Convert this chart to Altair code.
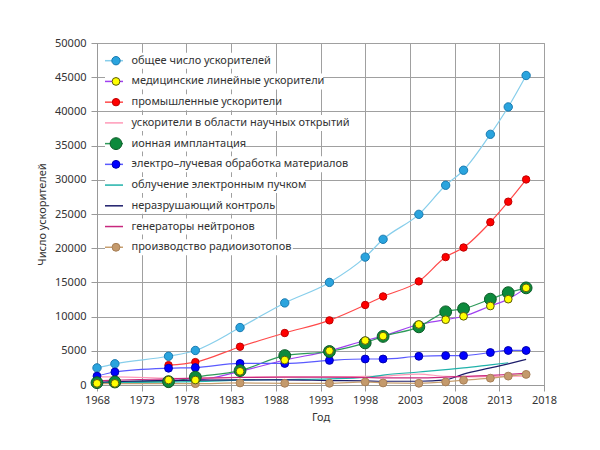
import altair as alt
import pandas as pd

years = [1968, 1970, 1976, 1979, 1984, 1989, 1994, 1998, 2000, 2004, 2007, 2009, 2012, 2014, 2016]

total = [2500, 3100, 4200, 5050, 8400, 12000, 15000, 18700, 21300, 24950, 29200, 31400, 36650, 40650, 45250]
medical = [240, 240, 730, 730, 2000, 3650, 5000, 6500, 7150, 8850, 9550, 10050, 11550, 12550, 14200]
industrial = [None, None, 2900, 3350, 5600, 7600, 9450, 11700, 12950, 15150, 18700, 20100, 23800, 26800, 30050]
science = [1200, 1200, 1000, 950, 1150, 1200, 1200, 1250, 1300, 1600, 1250, 1200, 1250, 1300, 1300]
ion = [340, 440, 490, 1150, 2100, 4300, 4900, 6150, 7100, 8500, 10700, 11150, 12550, 13500, 14200]
ebeam = [1300, 1900, 2450, 2550, 3150, 3150, 3600, 3800, 3800, 4200, 4300, 4300, 4750, 5050, 5050]
irradiation = [300, 350, 450, 500, 700, 800, 900, 1100, 1450, 1900, 2250, 2500, 2950, 3250, None]
ndt = [400, 500, 650, 700, 750, 750, 650, 600, 550, 550, 750, 1600, 2500, 3100, 3750]
neutron = [600, 700, 900, 1000, 1100, 1150, 1150, 1100, 1050, 1050, 1150, 1250, 1400, 1550, 1700]
isotopes = [200, 200, 200, 200, 300, 250, 250, 450, 300, 250, 450, 700, 1000, 1300, 1550]

names = [
    "общее число ускорителей",
    "медицинские линейные ускорители",
    "промышленные ускорители",
    "ускорители в области научных открытий",
    "ионная имплантация",
    "электро–лучевая обработка материалов",
    "облучение электронным пучком",
    "неразрушающий контроль",
    "генераторы нейтронов",
    "производство радиоизотопов",
]
values = [total, medical, industrial, science, ion, ebeam, irradiation, ndt, neutron, isotopes]

line_colors = ["#87ceeb", "#a040f0", "#ff4a4a", "#ff9ab8", "#2e9a5a",
               "#5a5aff", "#20b2aa", "#1c1c6a", "#c8287e", "#c8a070"]
marker_fill = ["#2aa4de", "#ffff00", "#ff0000", None, "#0d8a3c",
               "#0000ff", None, None, None, "#c49a6c"]
marker_stroke = ["#1a7ab0", "#5a5a10", "#c00000", None, "#0a5a25",
                 "#0000b0", None, None, None, "#a88058"]
marker_size = [70, 60, 55, 0, 140, 62, 0, 0, 0, 62]
marker_z = [2, 6, 3, 0, 5, 4, 0, 0, 0, 1]

rows = []
for i, (n, vals) in enumerate(zip(names, values)):
    for yr, v in zip(years, vals):
        if v is None:
            continue
        rows.append({"year": yr, "value": v, "series": n, "idx": i,
                     "lcolor": line_colors[i],
                     "mfill": marker_fill[i], "mstroke": marker_stroke[i],
                     "msize": marker_size[i], "z": marker_z[i]})
df = pd.DataFrame(rows)
pts_df = df[df["mfill"].notna()].sort_values(["z", "year"])

W, H = 447, 342
font = "Noto Sans"

x_scale = alt.Scale(domain=[1968, 2018], nice=False, zero=False)
y_scale = alt.Scale(domain=[0, 50000], nice=False, zero=False)
x_axis = alt.Axis(values=list(range(1968, 2019, 5)), format="d", title="Год",
                  tickSize=6, labelPadding=3, titlePadding=6, labelOverlap=False,
                  labelFlush=False)
y_axis = alt.Axis(values=list(range(0, 50001, 5000)), format="d",
                  title="Число ускорителей", tickSize=6, labelPadding=5,
                  titlePadding=7, labelOverlap=False, labelFlush=False)

lines = alt.Chart(df).mark_line(interpolate="monotone", strokeWidth=1.2).encode(
    x=alt.X("year:Q", scale=x_scale, axis=x_axis),
    y=alt.Y("value:Q", scale=y_scale, axis=y_axis),
    color=alt.Color("lcolor:N", scale=None),
    detail="series:N",
)
points = alt.Chart(pts_df).mark_point(filled=True, opacity=1, strokeWidth=1).encode(
    x=alt.X("year:Q", scale=x_scale, axis=x_axis),
    y=alt.Y("value:Q", scale=y_scale, axis=y_axis),
    fill=alt.Fill("mfill:N", scale=None),
    stroke=alt.Stroke("mstroke:N", scale=None),
    size=alt.Size("msize:Q", scale=None),
    order=alt.Order("z:Q"),
)
data_layer = alt.layer(lines, points)

# legend (drawn with marks)
row_step = 20.73
leg = pd.DataFrame({
    "series": names,
    "ly": [17.7 + k * row_step for k in range(len(names))],
    "lcolor": line_colors,
    "mfill": marker_fill,
    "mstroke": marker_stroke,
    "msize": marker_size,
})
leg["x0"] = 8
leg["x1"] = 26
leg["xm"] = 19
leg["xt"] = 34.5
leg["xr"] = 34.5 + leg["series"].str.len() * 6.05 + 4
leg["y0"] = leg["ly"] - 8
leg["y1"] = leg["ly"] + 8
leg_pts = leg[leg["mfill"].notna()]

lx = alt.Scale(domain=[0, W], nice=False, zero=False)
ly = alt.Scale(domain=[0, H], nice=False, zero=False, reverse=True)

leg_bg = alt.Chart(leg).mark_rect(color="white").encode(
    x=alt.X("x0:Q", scale=lx, axis=None), x2="xr:Q",
    y=alt.Y("y0:Q", scale=ly, axis=None), y2="y1:Q")
leg_line = alt.Chart(leg).mark_rule(strokeWidth=1.5).encode(
    x=alt.X("x0:Q", scale=lx, axis=None), x2="x1:Q",
    y=alt.Y("ly:Q", scale=ly, axis=None),
    color=alt.Color("lcolor:N", scale=None))
leg_pt = alt.Chart(leg_pts).mark_point(filled=True, opacity=1, strokeWidth=1).encode(
    x=alt.X("xm:Q", scale=lx, axis=None),
    y=alt.Y("ly:Q", scale=ly, axis=None),
    fill=alt.Fill("mfill:N", scale=None),
    stroke=alt.Stroke("mstroke:N", scale=None),
    size=alt.Size("msize:Q", scale=None))
leg_txt = alt.Chart(leg).mark_text(align="left", baseline="middle", font=font,
                                   fontSize=11, color="#333333").encode(
    x=alt.X("xt:Q", scale=lx, axis=None),
    y=alt.Y("ly:Q", scale=ly, axis=None),
    text="series:N")
legend_layer = alt.layer(leg_bg, leg_line, leg_pt, leg_txt)

chart = alt.layer(data_layer, legend_layer).resolve_scale(
    x="independent", y="independent"
).properties(
    width=W, height=H,
    autosize=alt.AutoSizeParams(type="none"),
    padding={"left": 89, "top": 35, "right": 48, "bottom": 57},
).configure_axis(
    gridColor="#a0a0a0", gridWidth=1, gridOpacity=1,
    domainColor="#999999", tickColor="#999999",
    labelFont=font, labelFontSize=11, labelColor="#333333",
    titleFont=font, titleFontSize=11, titleFontWeight="normal", titleColor="#333333",
).configure_view(stroke="#a0a0a0")

chart.save("out.html", embed_options={"renderer": "svg", "actions": False})
